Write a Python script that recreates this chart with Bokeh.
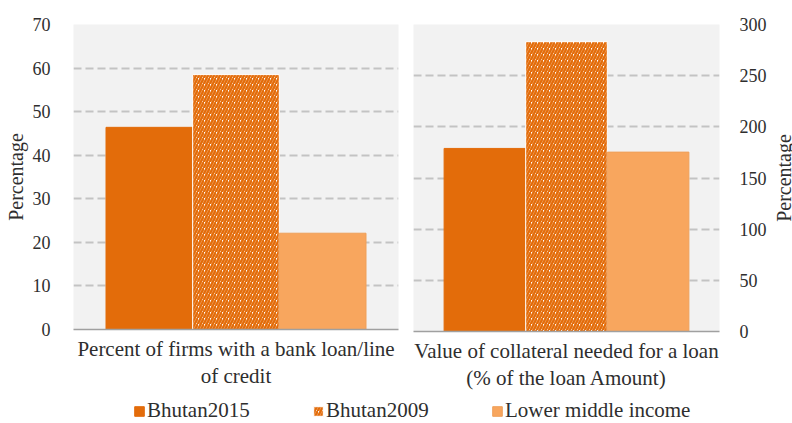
from bokeh.plotting import figure
from bokeh.models import (FactorRange, Range1d, CategoricalAxis, FixedTicker, Legend,
                          LegendItem, ColumnDataSource)
from bokeh.layouts import row, column
from bokeh.embed import file_html
from bokeh.resources import INLINE

# ---------------- data ----------------
series = ["Bhutan2015", "Bhutan2009", "Lower middle income"]
categories = ["Percent of firms with a bank loan/line\nof credit",
              "Value of collateral needed for a loan\n(% of the loan Amount)"]
firms_with_loan = [46.4, 58.5, 22.1]
collateral_value = [178.9, 283.2, 175.3]
left_ticks = [0, 10, 20, 30, 40, 50, 60, 70]
right_ticks = [0, 50, 100, 150, 200, 250, 300]
y_title = "Percentage"

# ---------------- styles ----------------
FONT = "'Liberation Serif', 'Times New Roman', serif"
TXT = "#2E2E2E"
DARK = "#E36C0A"
fills = ["#E36C0A", "#FFFFFF", "#F8A65E"]
edges = ["#E36C0A", "#FFFFFF", "#EFA05A"]
hatches = [" ", "/", " "]


def make_source(values):
    return ColumnDataSource(dict(series=series, value=values, fill=fills,
                                 edge=edges, hatch=hatches))


def add_bars(p, src, visible=True):
    r = p.vbar(x="series", top="value", width=1.0, source=src,
               fill_color="fill", line_color="edge", line_width=1,
               hatch_pattern="hatch", hatch_color=DARK, hatch_scale=6,
               hatch_weight=2.5)
    r.visible = visible
    return r


def style_title(ax, standoff):
    ax.axis_label = y_title
    ax.axis_label_text_font = FONT
    ax.axis_label_text_font_style = "normal"
    ax.axis_label_text_font_size = "20px"
    ax.axis_label_text_color = TXT
    ax.axis_label_standoff = standoff


def panel(values, ticks, cat, side, fw, fh, bl, br, bt, bb, label_standoff,
          with_axis_title):
    p = figure(x_range=FactorRange(factors=series, range_padding=0.25),
               y_range=Range1d(ticks[0], ticks[-1]),
               frame_width=fw, frame_height=fh,
               min_border_left=bl, min_border_right=br,
               min_border_top=bt, min_border_bottom=bb,
               x_axis_location=None, y_axis_location=side,
               output_backend="svg", toolbar_location=None,
               background_fill_color="#F2F2F2", border_fill_color="white",
               outline_line_color=None)
    add_bars(p, make_source(values))
    ya = p.yaxis[0]
    ya.ticker = FixedTicker(ticks=ticks)
    ya.axis_line_color = None
    ya.major_tick_line_color = None
    ya.minor_tick_line_color = None
    ya.major_label_text_font = FONT
    ya.major_label_text_font_size = "18px"
    ya.major_label_text_color = TXT
    ya.major_label_standoff = label_standoff
    if with_axis_title:
        style_title(ya, 3)
    p.xgrid.visible = False
    p.ygrid.ticker = FixedTicker(ticks=ticks[1:])
    p.ygrid.grid_line_color = "#C3C3C3"
    p.ygrid.grid_line_dash = "8 4"
    p.ygrid.grid_line_width = 2

    xa = CategoricalAxis(major_label_text_font_size="0px", major_label_standoff=0,
                         major_tick_line_color=None,
                         axis_line_color="#A0A0A0", axis_line_width=1.5,
                         axis_label=cat, axis_label_standoff=1,
                         axis_label_text_font=FONT, axis_label_text_font_style="normal",
                         axis_label_text_font_size="21px", axis_label_text_color=TXT,
                         axis_label_text_line_height=1.15)
    p.add_layout(xa, "below")
    return p


p1 = panel(firms_with_loan, left_ticks, categories[0], "left",
           325, 305, 73, 7, 24, 66, 17, True)
p2 = panel(collateral_value, right_ticks, categories[1], "right",
           306, 307, 8, 43, 20, 68, 14, False)

# narrow strip carrying the right-hand axis title (reads bottom-to-top)
p4 = figure(x_range=Range1d(0, 1), y_range=Range1d(right_ticks[0], right_ticks[-1]),
            frame_width=1, frame_height=307,
            min_border_left=29, min_border_right=0,
            min_border_top=20, min_border_bottom=68,
            x_axis_location=None, y_axis_location="left",
            output_backend="svg", toolbar_location=None,
            outline_line_color=None, border_fill_color="white",
            background_fill_color="white")
p4.xgrid.visible = False
p4.ygrid.visible = False
ta = p4.yaxis[0]
ta.ticker = FixedTicker(ticks=[])
ta.axis_line_color = None
ta.major_tick_line_color = None
ta.minor_tick_line_color = None
ta.major_tick_out = 0
ta.major_label_text_font_size = "0px"
ta.major_label_standoff = 0
style_title(ta, 8)

# legend strip
p3 = figure(x_range=FactorRange(factors=series), y_range=Range1d(0, 1),
            width=792, height=28, min_border=0,
            x_axis_location=None, y_axis_location=None,
            output_backend="svg", toolbar_location=None,
            outline_line_color=None, border_fill_color="white",
            background_fill_color="white")
p3.xgrid.visible = False
p3.ygrid.visible = False
lr = add_bars(p3, make_source(firms_with_loan), visible=False)
legend = Legend(items=[LegendItem(label=s, renderers=[lr], index=i)
                       for i, s in enumerate(series)],
                orientation="horizontal", location=(133, 0),
                padding=0, margin=0, spacing=6,
                glyph_width=12, glyph_height=12, label_standoff=2,
                label_width=159, label_text_font=FONT,
                label_text_font_size="21px", label_text_color=TXT,
                border_line_color=None, background_fill_alpha=0,
                inactive_fill_alpha=0)
p3.add_layout(legend, "center")

layout = column(row(p1, p2, p4), p3)

with open("out.html", "w") as f:
    f.write(file_html(layout, INLINE))
